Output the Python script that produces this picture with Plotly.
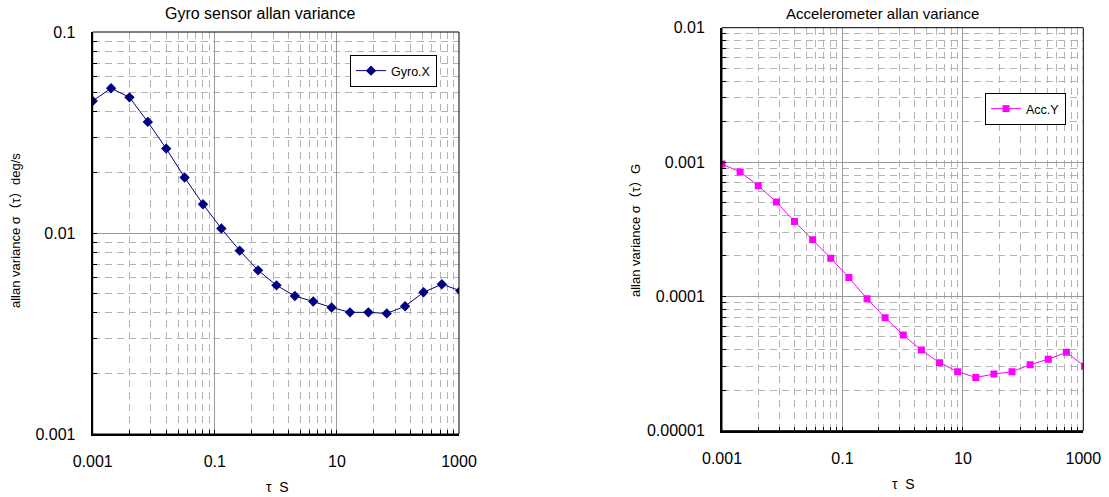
import plotly.graph_objects as go

# ---- data ----
tau = [0.001, 0.002, 0.004, 0.008, 0.016, 0.032, 0.064, 0.128, 0.256, 0.512,
       1.024, 2.048, 4.096, 8.192, 16.384, 32.768, 65.536, 131.072, 262.144,
       524.288, 1048.576]
gyro_x = [0.0454, 0.0525, 0.0473, 0.0357, 0.0263, 0.0189, 0.0139, 0.01052,
          0.00817, 0.00652, 0.00549, 0.00486, 0.00456, 0.00426, 0.00403,
          0.00403, 0.00398, 0.00432, 0.00507, 0.00556, 0.00516]
acc_y = [0.000966, 0.000843, 0.000667, 0.000504, 0.000361, 0.000264, 0.000192,
         0.000138, 0.0000960, 0.0000693, 0.0000515, 0.0000398, 0.0000321,
         0.0000275, 0.0000249, 0.0000264, 0.0000275, 0.0000310, 0.0000341,
         0.0000383, 0.0000302]

x_tickvals = [0.001, 0.1, 10, 1000]
x_ticktext = ["0.001", "0.1", "10", "1000"]
gy_tickvals = [0.001, 0.01, 0.1]
gy_ticktext = ["0.001", "0.01", "0.1"]
ay_tickvals = [0.00001, 0.0001, 0.001, 0.01]
ay_ticktext = ["0.00001", "0.0001", "0.001", "0.01"]

titles = ["Gyro sensor allan variance", "Accelerometer allan variance"]
ytitles = ["allan variance σ（τ）deg/s", "allan variance σ（τ）G"]
xtitle = "τ  S"

# minor grid positions (x axis has 2-decade major steps, minor at k^2 inside)
x_minor = [0.001 * (100 ** n) * k * k for n in range(3) for k in range(2, 10)]
gy_minor = [10 ** e * k for e in (-3, -2) for k in range(2, 10)]
ay_minor = [10 ** e * k for e in (-5, -4, -3) for k in range(2, 10)]

W, H = 1109, 497


def px(x):
    return x / W


def py(y):
    return 1 - y / H


fig = go.Figure()
fig.add_trace(go.Scatter(x=tau, y=gyro_x, mode="lines+markers", name="Gyro.X",
                         line=dict(color="#000080", width=1),
                         marker=dict(symbol="diamond", size=8, color="#000080"),
                         xaxis="x", yaxis="y", legend="legend"))
fig.add_trace(go.Scatter(x=tau, y=acc_y, mode="lines+markers", name="Acc.Y",
                         line=dict(color="#FF00FF", width=1),
                         marker=dict(symbol="square", size=7, color="#FF00FF"),
                         xaxis="x2", yaxis="y2", legend="legend2"))

tickfont = dict(family="Liberation Sans, Arial", size=16, color="black")
grid_major = "#9a9a9a"
grid_minor = "#b4b4b4"
LAT = "Liberation Sans, Noto Sans CJK JP"


def xax(domain, anchor):
    return dict(type="log", domain=domain, anchor=anchor, range=[-3, 3],
                automargin=False,
                tickvals=x_tickvals, ticktext=x_ticktext, tickfont=tickfont,
                ticks="inside", ticklen=4, tickcolor="black",
                showline=True, linecolor="black", linewidth=2,
                showgrid=True, gridcolor=grid_major, gridwidth=1,
                ticklabelstandoff=12, zeroline=False,
                minor=dict(tickvals=x_minor, ticks="inside", ticklen=4,
                           tickcolor="black", showgrid=True,
                           gridcolor=grid_minor, griddash="7px,5px",
                           gridwidth=1))


def yax(domain, anchor, rng, tv, tt, mv):
    return dict(type="log", domain=domain, anchor=anchor, range=rng,
                automargin=False,
                tickvals=tv, ticktext=tt, tickfont=tickfont,
                ticks="inside", ticklen=4, tickcolor="black",
                showline=True, linecolor="black", linewidth=2,
                showgrid=True, gridcolor=grid_major, gridwidth=1,
                ticklabelstandoff=12, zeroline=False,
                minor=dict(tickvals=mv, ticks="inside", ticklen=4,
                           tickcolor="black", showgrid=True,
                           gridcolor=grid_minor, griddash="7px,5px",
                           gridwidth=1))


fig.update_layout(
    width=W, height=H, margin=dict(l=0, r=0, t=0, b=0, autoexpand=False),
    paper_bgcolor="white", plot_bgcolor="white",
    xaxis=xax([px(92.7), px(459)], "y"),
    yaxis=yax([py(434), py(32)], "x", [-3, -1], gy_tickvals, gy_ticktext, gy_minor),
    xaxis2=xax([px(722), px(1083.3)], "y2"),
    yaxis2=yax([py(430.7), py(27.7)], "x2", [-5, -2], ay_tickvals, ay_ticktext, ay_minor),
    legend=dict(x=px(350), y=py(55), xanchor="left", yanchor="top",
                bgcolor="white", bordercolor="black", borderwidth=1,
                font=dict(family=LAT, size=12.5, color="black"),
                itemwidth=30, tracegroupgap=0),
    legend2=dict(x=px(985), y=py(93), xanchor="left", yanchor="top",
                 bgcolor="white", bordercolor="black", borderwidth=1,
                 font=dict(family=LAT, size=12.5, color="black"),
                 itemwidth=30, tracegroupgap=0),
    showlegend=True,
)

# plot-area borders
for xr, yr in (("x domain", "y domain"), ("x2 domain", "y2 domain")):
    fig.add_shape(type="rect", xref=xr, yref=yr, x0=0, x1=1, y0=0, y1=1,
                  line=dict(color="black", width=1), layer="above")


def note(text, x, y, size, family, angle=0):
    fig.add_annotation(text=text, x=px(x), y=py(y), xref="paper", yref="paper",
                       xanchor="center", yanchor="middle", showarrow=False,
                       textangle=angle,
                       font=dict(family=family, size=size, color="black"))


note(titles[0], 260, 14, 16, "Liberation Sans, Arial")
note(titles[1], 882, 14, 15, "Liberation Sans, Arial")
note(ytitles[0], 15, 231, 13, LAT, -90)
note(ytitles[1], 635, 231, 13, LAT, -90)
note(xtitle, 277, 487, 14, LAT)
note(xtitle, 903, 484, 14, LAT)

fig.write_html("out.html", config={"displayModeBar": False},
               post_script="document.body.style.margin='0px';")
